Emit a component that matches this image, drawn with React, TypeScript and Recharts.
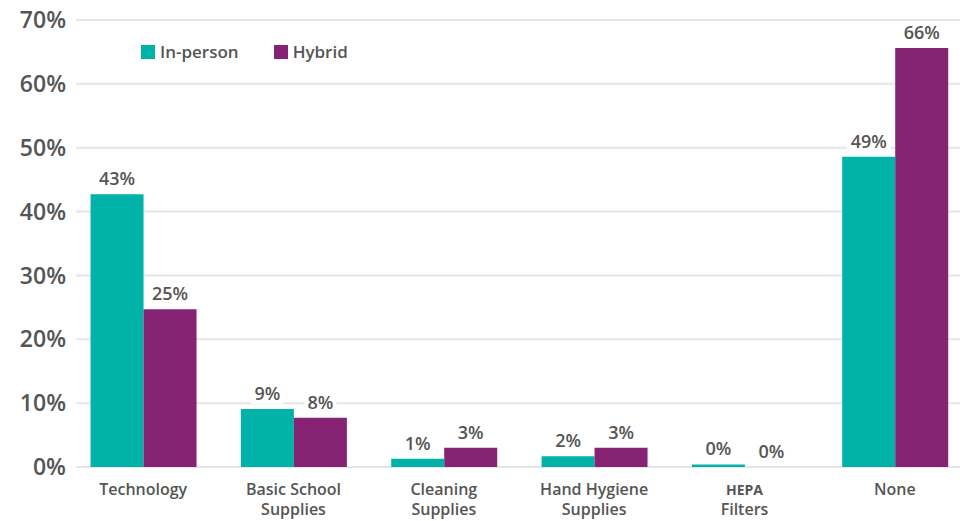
import React from 'react';
import { BarChart, Bar, XAxis, YAxis, CartesianGrid, LabelList } from 'recharts';

const categories = ['Technology', 'Basic School Supplies', 'Cleaning Supplies', 'Hand Hygiene Supplies', 'HEPA Filters', 'None'];
const categoryLines: Record<string, string[]> = {
  Technology: ['Technology'],
  'Basic School Supplies': ['Basic School', 'Supplies'],
  'Cleaning Supplies': ['Cleaning', 'Supplies'],
  'Hand Hygiene Supplies': ['Hand Hygiene', 'Supplies'],
  'HEPA Filters': ['HEPA', 'Filters'],
  None: ['None'],
};
const inPerson = [42.7, 9.1, 1.3, 1.7, 0.4, 48.6];
const hybrid = [24.7, 7.7, 3.0, 3.0, 0.01, 65.6];
const yTicks = [0, 10, 20, 30, 40, 50, 60, 70];

const TEAL = '#00b2a8';
const PURPLE = '#862372';
const TEXT = '#555555';
const FONT = '"Open Sans", Lato, sans-serif';

const data = categories.map((c, i) => ({ name: c, inPerson: inPerson[i], hybrid: hybrid[i] }));

const ValueLabel = (props: any) => {
  const { x, y, width, value } = props;
  const cx = x + width / 2;
  const text = `${Math.round(value)}%`;
  const w = text.length * 12 + 8;
  return (
    <g>
      <rect x={cx - w / 2} y={y - 27} width={w} height={22} fill="#fff" />
      <text x={cx} y={y - 9} textAnchor="middle" fill={TEXT} fontSize={18} fontWeight={600} fontFamily={FONT}>
        {text}
      </text>
    </g>
  );
};

const CategoryTick = (props: any) => {
  const { x, y, payload } = props;
  const lines = categoryLines[payload.value] || [payload.value];
  return (
    <g>
      {lines.map((line, i) => (
        <text
          key={i}
          x={x}
          y={y + 20 + i * 20}
          textAnchor="middle"
          fill={TEXT}
          fontSize={line === 'HEPA' ? 14 : 16}
          fontWeight={line === 'HEPA' ? 700 : 600}
          fontFamily={FONT}
        >
          {line}
        </text>
      ))}
    </g>
  );
};

const Legend = () => (
  <div
    style={{
      position: 'absolute',
      left: 141,
      top: 40,
      display: 'flex',
      alignItems: 'center',
      fontFamily: FONT,
      fontSize: 17,
      fontWeight: 600,
      color: TEXT,
    }}
  >
    <span style={{ width: 14, height: 14, background: TEAL, display: 'inline-block', marginRight: 5 }} />
    <span style={{ marginRight: 35 }}>In-person</span>
    <span style={{ width: 14, height: 14, background: PURPLE, display: 'inline-block', marginRight: 5 }} />
    <span>Hybrid</span>
  </div>
);

export default function App() {
  return (
    <div style={{ position: 'absolute', left: 0, top: 0, width: 960, height: 521, overflow: 'hidden', background: '#fff' }}>
      <BarChart
        width={980}
        height={521}
        data={data}
        margin={{ top: 20, right: 10, bottom: 0, left: 0 }}
        barCategoryGap="15%"
        barGap={0}
      >
        <CartesianGrid vertical={false} stroke="#e6e6e6" strokeWidth={2} x={76} width={900} />
        <XAxis
          dataKey="name"
          axisLine={false}
          tickLine={false}
          height={54}
          tick={<CategoryTick />}
          interval={0}
        />
        <YAxis
          domain={[0, 70]}
          ticks={yTicks}
          width={68}
          axisLine={false}
          tickLine={false}
          tickSize={0}
          tickMargin={2}
          tickFormatter={(v) => `${v}%`}
          tick={{ fill: TEXT, fontSize: 23, fontWeight: 600, fontFamily: FONT }}
        />
        <Bar dataKey="inPerson" fill={TEAL} isAnimationActive={false}>
          <LabelList dataKey="inPerson" content={<ValueLabel />} />
        </Bar>
        <Bar dataKey="hybrid" fill={PURPLE} isAnimationActive={false}>
          <LabelList dataKey="hybrid" content={<ValueLabel />} />
        </Bar>
      </BarChart>
      <Legend />
    </div>
  );
}
